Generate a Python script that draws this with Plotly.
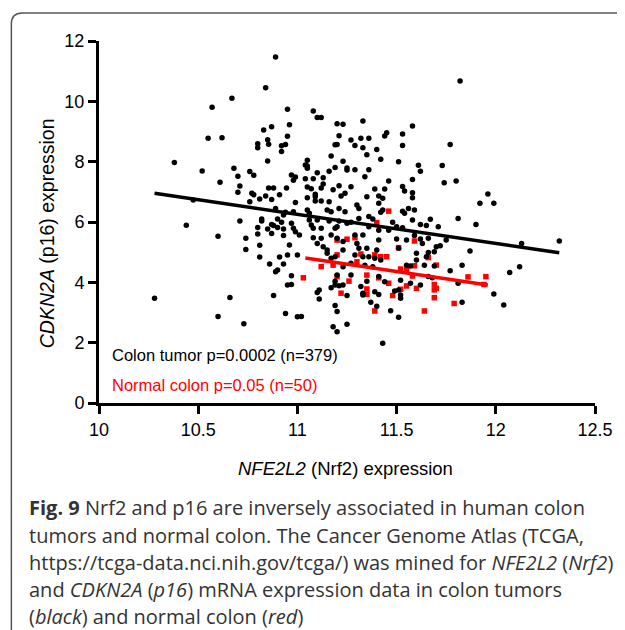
import plotly.graph_objects as go

# ---------------- data ----------------
tumor_x = [
    10.89, 10.84, 10.67, 10.57, 10.95, 10.83, 10.87, 10.55, 10.62, 10.85, 10.855, 10.80, 10.80, 10.92, 10.94, 10.95,
    10.92, 10.85, 10.38, 10.52, 10.68, 10.70, 10.76, 10.78, 10.61, 10.71, 10.70, 10.77, 10.78, 10.855, 10.88, 10.945,
    10.91, 10.84, 10.81, 10.87,
    11.08, 11.10, 11.12, 10.96, 11.20, 11.23, 11.33, 11.58, 11.21, 11.27, 11.32, 11.36, 11.44, 11.45, 11.53, 11.53,
    11.19, 11.20, 11.29, 11.33, 11.35, 11.40, 11.42, 11.51, 11.17, 11.05, 11.04, 11.05, 11.05, 11.23, 11.25, 11.25,
    11.19, 11.29, 11.36, 11.16, 11.10, 11.61, 11.62, 10.97, 10.99, 10.98, 11.04, 11.08, 11.13, 11.13, 11.12, 11.34,
    11.46, 11.58, 11.05, 11.07, 11.21, 11.18, 11.27, 11.39, 11.44, 11.53, 11.54, 11.58, 11.58, 11.05, 11.09, 11.09,
    11.24, 11.22, 11.35, 11.41, 11.43,
    11.82, 11.77, 11.73, 11.74, 11.80, 11.96,
    10.475, 10.76, 10.71, 10.44, 10.60, 10.74, 10.74, 10.82, 10.82, 10.80, 10.85, 10.87, 10.88, 10.90, 10.92, 10.90,
    10.93, 10.89, 10.94, 10.93, 10.80, 10.87, 10.93, 10.81, 10.81, 10.91, 10.93, 10.86, 10.89, 10.90, 10.95, 10.28,
    10.66, 10.88, 10.60, 10.73, 10.94, 10.95,
    10.99, 11.09, 11.12, 11.16, 11.30, 11.31, 11.41, 10.98, 11.05, 11.06, 11.15, 11.17, 11.21, 11.24, 11.42, 11.43,
    11.31, 11.36, 11.38, 11.06, 11.10, 11.16, 11.21, 11.25, 11.27, 10.97, 10.98, 10.99, 11.07, 11.08, 11.12, 11.19,
    11.20, 11.36, 11.41, 11.29, 11.33, 11.17, 11.20, 11.01, 11.08, 11.12, 11.41, 10.96, 11.10, 11.13, 11.15, 11.23,
    11.30, 11.35, 11.31, 11.40, 11.23, 11.29, 11.33, 11.36, 11.00, 11.15, 11.17, 11.19, 11.27, 11.39, 11.42, 11.23,
    11.34, 11.38, 10.97, 11.20, 11.27, 11.41,
    10.97, 11.19, 11.17, 11.19, 11.21, 11.23, 11.25, 11.11, 11.10, 11.11, 11.19, 11.20, 11.00, 11.02, 11.18, 11.20,
    11.25, 11.32, 11.33, 11.33, 11.35, 11.39, 11.41, 11.37, 11.40, 11.44, 11.43,
    11.53, 11.54, 11.56, 11.59, 11.58, 11.48, 11.50, 11.46, 11.53, 11.67, 11.65, 11.62, 11.71, 11.81, 11.90, 11.92,
    11.59, 11.62, 11.66, 11.50, 11.55, 11.63, 11.75, 11.51, 11.70, 11.72, 11.60, 11.66, 11.69, 11.60, 11.65, 11.87,
    11.55, 11.57, 11.64, 11.69, 11.83, 11.77, 11.66, 11.68,
    11.52, 11.57, 11.62, 11.81, 11.49, 11.51, 11.52, 11.52, 11.47, 11.51, 11.83,
    11.99, 12.13, 12.32, 12.12, 12.07, 11.99, 12.04,
]
tumor_y = [
    11.47, 10.45, 10.10, 9.80, 9.74, 9.05, 9.16, 8.78, 8.79, 8.73, 8.58, 8.59, 8.46, 8.53, 8.57, 8.84,
    8.34, 8.02, 7.97, 7.69, 7.78, 7.52, 7.67, 7.55, 7.32, 7.19, 6.99, 6.95, 6.90, 7.13, 7.13, 7.13,
    6.90, 6.86, 6.76, 6.75,
    9.68, 9.46, 9.46, 9.22, 9.26, 9.24, 9.35, 9.18, 8.86, 8.72, 8.78, 8.78, 8.85, 8.96, 8.92, 8.54,
    8.56, 8.57, 8.54, 8.46, 8.23, 8.40, 8.08, 8.00, 8.19, 8.05, 7.89, 7.86, 7.78, 8.01, 7.79, 7.72,
    7.81, 7.73, 7.73, 7.68, 7.63, 7.88, 7.68, 7.56, 7.49, 7.38, 7.43, 7.43, 7.47, 7.26, 7.13, 7.50,
    7.36, 7.41, 7.16, 7.10, 7.20, 7.07, 7.17, 7.09, 7.09, 7.18, 7.03, 6.97, 6.80, 6.80, 6.92, 6.84,
    6.95, 6.86, 6.84, 6.86, 6.79,
    10.67, 8.57, 7.87, 7.30, 7.36, 6.93,
    6.73, 6.67, 6.03, 5.89, 5.53, 5.46, 5.09, 6.10, 6.03, 5.82, 5.77, 5.92, 5.88, 6.10, 5.99, 5.82,
    5.77, 6.45, 6.32, 6.23, 5.60, 5.62, 5.55, 5.23, 4.84, 4.84, 4.61, 4.61, 4.35, 4.41, 4.91, 3.47,
    3.50, 3.56, 2.87, 2.63, 2.97, 3.91,
    6.65, 6.70, 6.70, 6.67, 6.56, 6.45, 6.62, 6.34, 6.40, 6.29, 6.40, 6.34, 6.45, 6.34, 6.32, 6.40,
    6.12, 6.18, 6.10, 6.07, 6.07, 6.03, 6.03, 5.96, 5.99, 5.96, 5.79, 5.68, 5.90, 5.79, 5.79, 5.79,
    5.84, 5.84, 5.73, 5.57, 5.57, 5.57, 5.46, 5.57, 5.48, 5.46, 5.40, 5.24, 5.29, 5.18, 5.07, 5.35,
    5.29, 5.13, 5.13, 5.07, 5.07, 4.91, 4.85, 4.85, 4.91, 4.96, 4.80, 4.85, 4.63, 4.80, 4.74, 4.52,
    4.57, 4.52, 4.22, 4.24, 4.24, 4.19,
    3.93, 4.04, 3.82, 3.91, 3.89, 3.91, 3.56, 3.75, 3.66, 3.45, 3.23, 3.03, 2.86, 2.87, 2.53, 2.36,
    2.61, 3.86, 3.64, 3.58, 4.04, 3.69, 3.60, 3.34, 3.21, 4.02, 1.98,
    6.36, 6.29, 6.45, 6.40, 6.07, 5.99, 5.84, 5.73, 5.81, 6.09, 5.88, 5.92, 5.84, 6.12, 5.92, 6.62,
    5.55, 5.44, 5.46, 5.44, 5.40, 5.29, 5.40, 5.13, 5.18, 5.21, 4.96, 4.99, 5.01, 4.74, 4.85, 5.04,
    4.57, 4.54, 4.57, 4.54, 4.57, 4.38, 4.19, 4.15,
    4.07, 3.97, 3.91, 3.97, 3.71, 3.75, 3.58, 3.47, 3.06, 2.84, 3.34,
    6.62, 5.29, 5.37, 4.52, 4.33, 3.61, 3.25,
]

normal_x = [
    11.40, 11.25, 11.29, 11.20, 11.32, 11.20, 11.39, 11.42, 11.45, 11.12, 11.18, 11.30, 11.35, 11.41, 11.03, 11.20,
    11.22, 11.26, 11.35, 11.35, 11.39,
    11.46, 11.59, 11.51, 11.66, 11.70, 11.59, 11.52, 11.55, 11.58, 11.86, 11.95,
    11.46, 11.55, 11.60, 11.52, 11.48, 11.69, 11.70, 11.69, 11.69, 11.79, 11.64,
    11.94,
]
normal_y = [
    5.98, 5.43, 5.48, 5.40, 4.94, 4.91, 4.91, 4.85, 4.85, 4.52, 4.57, 4.68, 4.24, 4.15, 4.15, 4.19,
    3.64, 4.04, 3.60, 3.78, 3.05,
    6.36, 5.37, 5.15, 4.82, 4.57, 4.55, 4.44, 4.41, 4.21, 4.18, 4.19,
    3.97, 3.88, 3.80, 3.77, 3.56, 3.93, 3.80, 3.75, 3.49, 3.30, 3.05,
    3.93,
]

# regression lines as drawn in the reference (end points)
tumor_fit_x = [10.28, 12.32]
tumor_fit_y = [6.95, 4.98]
normal_fit_x = [11.04, 11.96]
normal_fit_y = [4.81, 3.91]

x_ticks = [10, 10.5, 11, 11.5, 12, 12.5]
x_tick_labels = ["10", "10.5", "11", "11.5", "12", "12.5"]
y_ticks = [0, 2, 4, 6, 8, 10, 12]
y_tick_labels = ["0", "2", "4", "6", "8", "10", "12"]

tumor_label = "Colon tumor p=0.0002 (n=379)"
normal_label = "Normal colon p=0.05 (n=50)"
x_title = "<i>NFE2L2</i> (Nrf2) expression"
y_title = "<i>CDKN2A</i> (p16) expression"
caption_lines = [
    "<b>Fig. 9</b> Nrf2 and p16 are inversely associated in human colon",
    "tumors and normal colon. The Cancer Genome Atlas (TCGA,",
    "https://tcga-data.nci.nih.gov/tcga/) was mined for <i>NFE2L2</i> (<i>Nrf2</i>)",
    "and <i>CDKN2A</i> (<i>p16</i>) mRNA expression data in colon tumors",
    "(<i>black</i>) and normal colon (<i>red</i>)",
]

# ---------------- layout geometry ----------------
# the page body adds an 8px margin, so the figure is drawn 8px smaller
PAGE_W, PAGE_H, BODY = 625, 630, 8
W, H = PAGE_W - BODY, PAGE_H - BODY
PLOT_L, PLOT_R, PLOT_T, PLOT_B = 99, 597, 41, 403          # page pixels
ML, MT = PLOT_L - BODY, PLOT_T - BODY
MR, MB = W - (PLOT_R - BODY), H - (PLOT_B - BODY)
PW = PLOT_R - PLOT_L
PH = PLOT_B - PLOT_T


def fx(xp):
    return (xp - PLOT_L) / PW


def fy(yp):
    return (PLOT_B - yp) / PH


SANS = "Liberation Sans, Arial, Helvetica, sans-serif"
CAP = "Open Sans, Noto Sans, sans-serif"

fig = go.Figure()
fig.add_trace(go.Scatter(x=normal_x, y=normal_y, mode="markers",
                         marker=dict(symbol="square", size=5.5, color="#ff0000", line=dict(width=0)),
                         showlegend=False))
fig.add_trace(go.Scatter(x=tumor_x, y=tumor_y, mode="markers",
                         marker=dict(symbol="circle", size=5.5, color="#000000", line=dict(width=0)),
                         showlegend=False))
fig.add_trace(go.Scatter(x=tumor_fit_x, y=tumor_fit_y, mode="lines",
                         line=dict(color="#000000", width=3.5), showlegend=False))
fig.add_trace(go.Scatter(x=normal_fit_x, y=normal_fit_y, mode="lines",
                         line=dict(color="#ff0000", width=3.5), showlegend=False))

axis_common = dict(showline=True, linewidth=3, linecolor="black", ticks="outside",
                   ticklen=8, tickwidth=3, tickcolor="black", showgrid=False, zeroline=False,
                   tickfont=dict(family=SANS, size=18, color="black"), fixedrange=True)

fig.update_xaxes(range=[10, 12.5], tickvals=x_ticks, ticktext=x_tick_labels, **axis_common)
fig.update_yaxes(range=[0, 12], tickvals=y_ticks, ticktext=y_tick_labels, **axis_common)

ann = []
ann.append(dict(text=x_title, x=fx(346), y=fy(468), xref="paper", yref="paper",
                xanchor="center", yanchor="middle", showarrow=False,
                font=dict(family=SANS, size=18.5, color="black")))
ann.append(dict(text=y_title, x=fx(47), y=fy(233), xref="paper", yref="paper",
                xanchor="center", yanchor="middle", showarrow=False, textangle=-90,
                font=dict(family=SANS, size=19.5, color="black")))
ann.append(dict(text=tumor_label, x=fx(110), y=fy(355), xref="paper", yref="paper",
                xanchor="left", yanchor="middle", showarrow=False,
                font=dict(family=SANS, size=16.5, color="black")))
ann.append(dict(text=normal_label, x=fx(110), y=fy(385), xref="paper", yref="paper",
                xanchor="left", yanchor="middle", showarrow=False,
                font=dict(family=SANS, size=16.5, color="#ff0000")))
for i, line in enumerate(caption_lines):
    ann.append(dict(text=line, x=fx(27), y=fy(508 + 27 * i), xref="paper", yref="paper",
                    xanchor="left", yanchor="middle", showarrow=False,
                    font=dict(family=CAP, size=20, color="#333333")))

r = 11
border = (f"M {fx(11)},{fy(700)} L {fx(11)},{fy(13 + r)} "
          f"Q {fx(11)},{fy(13)} {fx(11 + r)},{fy(13)} L {fx(700)},{fy(13)}")

fig.update_layout(
    width=W, height=H,
    margin=dict(l=ML, r=MR, t=MT, b=MB, pad=0),
    paper_bgcolor="white", plot_bgcolor="white",
    showlegend=False,
    annotations=ann,
    shapes=[dict(type="path", path=border, xref="paper", yref="paper",
                 line=dict(color="#555555", width=1.5))],
)

fig.write_html("out.html", config={"displayModeBar": False})
